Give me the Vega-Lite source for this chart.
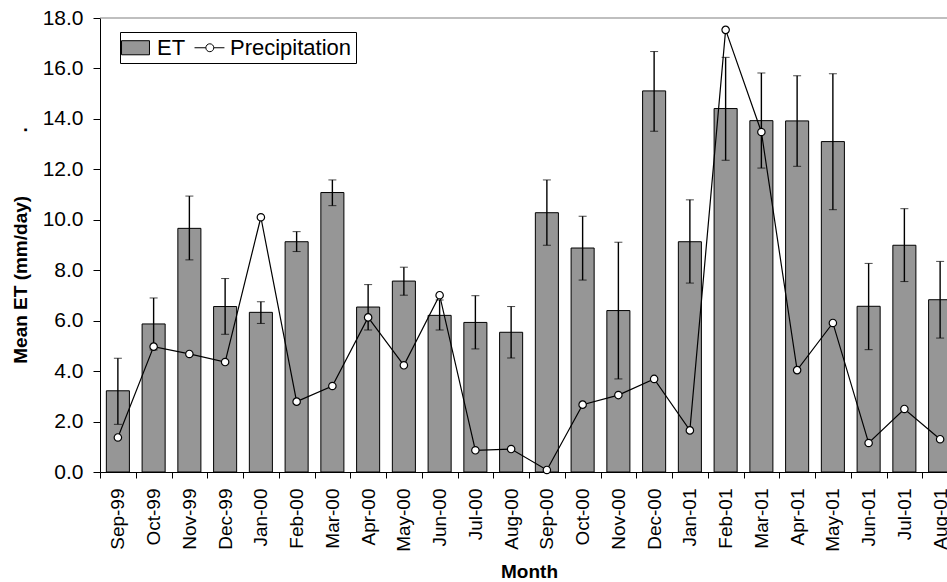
{
  "$schema": "https://vega.github.io/schema/vega-lite/v6.json",
  "autosize": {"type": "none"},
  "padding": {"left": 100, "top": 18, "right": 0, "bottom": 110},
  "width": 847,
  "height": 454,
  "background": "white",
  "config": {
    "view": {"stroke": null},
    "font": "Liberation Sans",
    "axis": {"labelFont": "Liberation Sans", "titleFont": "Liberation Sans", "labelColor": "black", "titleColor": "black", "domainColor": "black", "tickColor": "black", "grid": false}
  },
  "data": {"values": [
    {"month": "Sep-99", "et": 3.22, "lo": 1.89, "hi": 4.51, "precip": 1.37},
    {"month": "Oct-99", "et": 5.87, "lo": 4.84, "hi": 6.90, "precip": 4.97},
    {"month": "Nov-99", "et": 9.66, "lo": 8.41, "hi": 10.94, "precip": 4.68},
    {"month": "Dec-99", "et": 6.56, "lo": 5.46, "hi": 7.67, "precip": 4.36},
    {"month": "Jan-00", "et": 6.33, "lo": 5.89, "hi": 6.75, "precip": 10.10},
    {"month": "Feb-00", "et": 9.13, "lo": 8.74, "hi": 9.53, "precip": 2.79},
    {"month": "Mar-00", "et": 11.08, "lo": 10.56, "hi": 11.58, "precip": 3.41},
    {"month": "Apr-00", "et": 6.54, "lo": 5.63, "hi": 7.43, "precip": 6.13},
    {"month": "May-00", "et": 7.57, "lo": 7.01, "hi": 8.12, "precip": 4.23},
    {"month": "Jun-00", "et": 6.21, "lo": 5.63, "hi": 6.82, "precip": 7.01},
    {"month": "Jul-00", "et": 5.93, "lo": 4.88, "hi": 6.99, "precip": 0.86},
    {"month": "Aug-00", "et": 5.54, "lo": 4.52, "hi": 6.56, "precip": 0.91},
    {"month": "Sep-00", "et": 10.28, "lo": 8.99, "hi": 11.58, "precip": 0.08},
    {"month": "Oct-00", "et": 8.88, "lo": 7.61, "hi": 10.14, "precip": 2.67},
    {"month": "Nov-00", "et": 6.40, "lo": 3.69, "hi": 9.11, "precip": 3.05},
    {"month": "Dec-00", "et": 15.11, "lo": 13.51, "hi": 16.67, "precip": 3.69},
    {"month": "Jan-01", "et": 9.13, "lo": 7.49, "hi": 10.79, "precip": 1.65},
    {"month": "Feb-01", "et": 14.41, "lo": 12.36, "hi": 16.44, "precip": 17.53},
    {"month": "Mar-01", "et": 13.93, "lo": 12.05, "hi": 15.82, "precip": 13.48},
    {"month": "Apr-01", "et": 13.92, "lo": 12.12, "hi": 15.71, "precip": 4.04},
    {"month": "May-01", "et": 13.10, "lo": 10.40, "hi": 15.79, "precip": 5.91},
    {"month": "Jun-01", "et": 6.57, "lo": 4.85, "hi": 8.27, "precip": 1.15},
    {"month": "Jul-01", "et": 8.99, "lo": 7.55, "hi": 10.44, "precip": 2.50},
    {"month": "Aug-01", "et": 6.83, "lo": 5.31, "hi": 8.35, "precip": 1.30}
  ]},
  "layer": [
    {
      "data": {"values": [{}]},
      "mark": {"type": "rule", "color": "#808080", "strokeWidth": 1.2},
      "encoding": {"y": {"datum": 18, "type": "quantitative", "title": "Mean ET (mm/day)\u00a0\u00a0\u00a0\u00a0\u00a0\u00a0\u00a0\u00a0\u00a0\u00a0\u00a0\u00a0."}}
    },
    {
      "mark": {"type": "bar", "stroke": "black", "strokeWidth": 1, "width": {"band": 0.645}},
      "encoding": {
        "x": {
          "field": "month", "type": "nominal", "sort": null, "title": "Month",
          "scale": {"range": [0, 858], "paddingInner": 0, "paddingOuter": 0},
          "axis": {
            "titleFontSize": 19, "titleFontWeight": "bold", "titlePadding": 11,
            "labelAngle": -90, "labelFontSize": 19, "labelPadding": 10, "tickSize": 6, "tickBand": "extent",
            "domainWidth": 1
          }
        },
        "y": {
          "field": "et", "type": "quantitative",
          "title": "Mean ET (mm/day)\u00a0\u00a0\u00a0\u00a0\u00a0\u00a0\u00a0\u00a0\u00a0\u00a0\u00a0\u00a0.",
          "scale": {"domain": [0, 18], "nice": false, "zero": true},
          "axis": {
            "titleFontSize": 19, "titleFontWeight": "bold", "titlePadding": 12,
            "values": [0, 2, 4, 6, 8, 10, 12, 14, 16, 18], "format": ".1f",
            "labelFontSize": 21, "labelPadding": 10, "tickSize": 7, "domainWidth": 1
          }
        },
        "fill": {
          "datum": "ET", "type": "nominal",
          "scale": {"domain": ["ET", "Precipitation"], "range": ["#969696", "#ffffff"]},
          "legend": {
            "title": null, "orient": "none", "legendX": 20, "legendY": 14, "direction": "horizontal",
            "strokeColor": "black", "fillColor": "white", "padding": 4,
            "labelFont": "Liberation Sans", "labelFontSize": 22, "labelColor": "black", "labelOffset": 10,
            "columnPadding": 6, "symbolSize": 484, "symbolStrokeColor": "black", "symbolStrokeWidth": 1,
            "encode": {"symbols": {"update": {
              "shape": {"signal": "datum.value === 'ET' ? 'M-1.27,-0.64H1.27V0.64H-1.27Z' : 'M-1.27,0H-0.24M0.48,0H1.45M0.48,0A0.36,0.36,0,1,1,-0.24,0A0.36,0.36,0,1,1,0.48,0'"},
              "stroke": {"value": "black"},
              "strokeWidth": {"value": 1},
              "opacity": {"value": 1}
            }}}
          }
        }
      }
    },
    {
      "mark": {"type": "errorbar", "ticks": {"size": 8, "color": "black", "strokeWidth": 1.4}, "rule": {"color": "black", "strokeWidth": 1.4}},
      "encoding": {
        "x": {"field": "month", "type": "nominal", "sort": null, "title": "Month"},
        "y": {"field": "lo", "type": "quantitative", "title": "Mean ET (mm/day)\u00a0\u00a0\u00a0\u00a0\u00a0\u00a0\u00a0\u00a0\u00a0\u00a0\u00a0\u00a0."},
        "y2": {"field": "hi"}
      }
    },
    {
      "mark": {"type": "line", "color": "black", "strokeWidth": 1.2},
      "encoding": {
        "x": {"field": "month", "type": "nominal", "sort": null, "title": "Month"},
        "y": {"field": "precip", "type": "quantitative", "title": "Mean ET (mm/day)\u00a0\u00a0\u00a0\u00a0\u00a0\u00a0\u00a0\u00a0\u00a0\u00a0\u00a0\u00a0."}
      }
    },
    {
      "mark": {"type": "point", "filled": true, "size": 55, "stroke": "black", "strokeWidth": 1.2, "opacity": 1, "shape": "circle"},
      "encoding": {
        "x": {"field": "month", "type": "nominal", "sort": null, "title": "Month"},
        "y": {"field": "precip", "type": "quantitative", "title": "Mean ET (mm/day)\u00a0\u00a0\u00a0\u00a0\u00a0\u00a0\u00a0\u00a0\u00a0\u00a0\u00a0\u00a0."},
        "fill": {"datum": "Precipitation", "type": "nominal"}
      }
    }
  ]
}
